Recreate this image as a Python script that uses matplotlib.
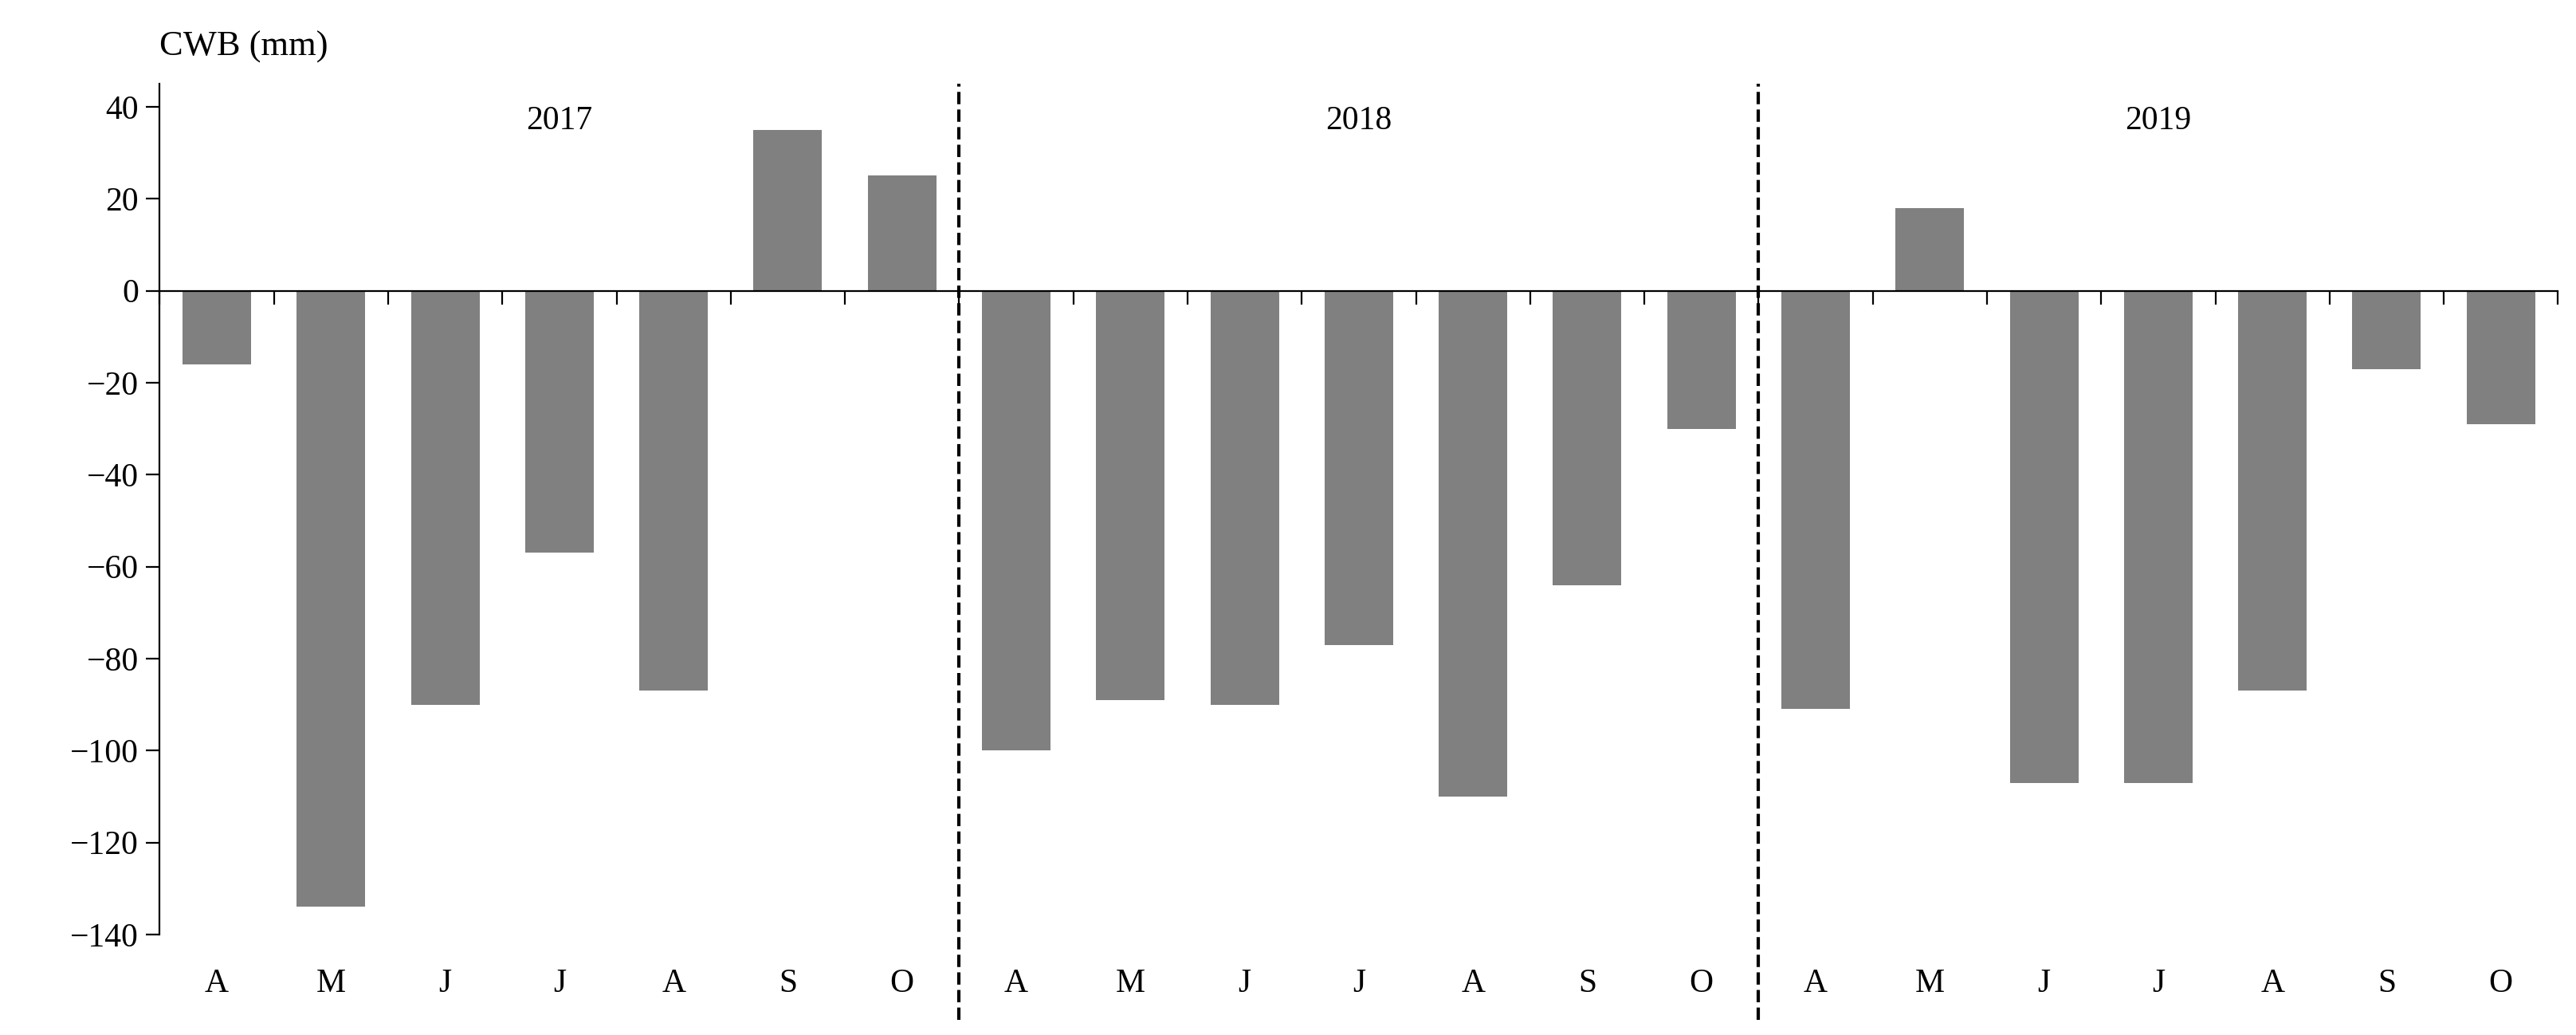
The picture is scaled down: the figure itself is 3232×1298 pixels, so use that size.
import matplotlib.pyplot as plt
import matplotlib.transforms as mtransforms
import numpy as np

plt.rcParams['font.family'] = ['Liberation Serif', 'DejaVu Serif']

years = ['2017', '2018', '2019']
months = ['A', 'M', 'J', 'J', 'A', 'S', 'O']
cwb_2017 = [-16, -134, -90, -57, -87, 35, 25]
cwb_2018 = [-100, -89, -90, -77, -110, -64, -30]
cwb_2019 = [-91, 18, -107, -107, -87, -17, -29]

values = cwb_2017 + cwb_2018 + cwb_2019
labels = months * 3
x = np.arange(len(values))

fig = plt.figure(figsize=(16.16, 6.49), dpi=200)
ax = fig.add_axes([0.062, 0.097, 0.931, 0.822])

ax.bar(x, values, width=0.6, color='#808080')

ax.set_xlim(-0.5, len(values) - 0.5)
ax.set_ylim(-140, 45)
ax.set_yticks(np.arange(-140, 41, 20))
ax.tick_params(axis='y', labelsize=15, direction='out', length=6)

# x axis drawn through zero, labels placed low
ax.spines['bottom'].set_position(('data', 0))
ax.spines['top'].set_visible(False)
ax.spines['right'].set_visible(False)
ax.set_xticks(np.arange(-0.5, len(values), 1))
ax.set_xticklabels([])
ax.tick_params(axis='x', direction='out', length=6)

trans = mtransforms.blended_transform_factory(ax.transData, ax.transAxes)
for xi, lab in zip(x, labels):
    ax.text(xi, -0.04, lab, transform=trans, ha='center', va='top', fontsize=15)

for i, yr in enumerate(years):
    ax.text(i * 7 + 3, 37, yr, ha='center', va='center', fontsize=15)

for b in [6.5, 13.5]:
    ax.plot([b, b], [-0.1, 1.0], transform=trans, color='black',
            linestyle='--', linewidth=1.5, clip_on=False)

fig.text(0.062, 0.955, 'CWB (mm)', ha='left', va='center', fontsize=16)

fig.savefig('out.png', dpi=200)
